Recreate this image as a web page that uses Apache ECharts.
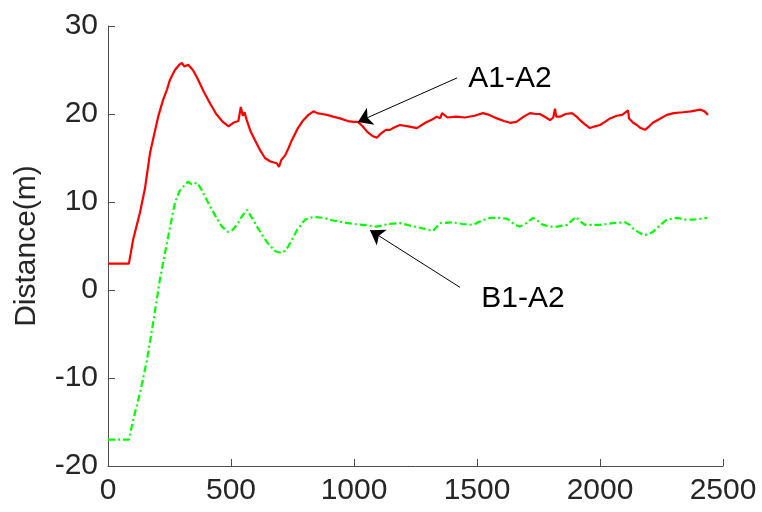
<!DOCTYPE html>
<html>
<head>
<meta charset="utf-8">
<script src="https://cdn.jsdelivr.net/npm/echarts@6/dist/echarts.min.js"></script>
<style>html,body{margin:0;padding:0;background:#fff}#c{width:762px;height:512px}</style>
</head>
<body>
<div id="c"></div>
<script>
var xTicks = [0, 500, 1000, 1500, 2000, 2500];
var yTicks = [-20, -10, 0, 10, 20, 30];

var a1a2X = [0,85,102,130,150,171,204,224,240,252,272,290,300,310,326,345,361,390,415,440,467,490,509,530,540,548,555,564,580,598,620,638,660,686,695,705,720,735,747,770,794,815,835,850,870,890,915,943,975,1000,1016,1035,1053,1075,1093,1110,1130,1146,1165,1187,1220,1256,1290,1320,1337,1350,1358,1380,1418,1450,1490,1524,1550,1581,1610,1634,1660,1690,1715,1740,1756,1780,1797,1810,1817,1822,1837,1860,1886,1905,1919,1940,1959,1980,2000,2020,2041,2068,2090,2114,2118,2135,2150,2165,2183,2200,2215,2240,2272,2300,2337,2370,2407,2425,2439];
var a1a2Y = [3,3,5.7,8.8,11.5,15.6,19.7,21.6,22.8,23.9,25.0,25.6,25.8,25.4,25.6,25.0,24.2,22.5,21.2,20.0,19.1,18.6,19.0,19.2,20.8,19.8,20.2,19.3,18.0,17.0,15.8,15.0,14.6,14.4,14.0,14.8,15.3,16.2,17.0,18.3,19.3,19.9,20.3,20.1,20.0,19.9,19.7,19.5,19.2,19.1,19.1,18.6,18.0,17.5,17.3,17.8,18.2,18.2,18.5,18.75,18.6,18.4,19.0,19.4,19.7,19.5,20.1,19.6,19.7,19.6,19.8,20.1,19.9,19.5,19.2,19.0,19.1,19.7,20.1,20.0,20.0,19.6,19.3,19.6,20.6,19.7,19.7,20.0,20.1,19.7,19.3,18.8,18.4,18.6,18.75,19.1,19.5,19.8,19.9,20.4,19.5,19.0,18.75,18.4,18.2,18.6,19.0,19.4,19.9,20.1,20.2,20.3,20.5,20.3,19.9];

var b1a2X = [0,85,102,130,158,183,211,244,272,290,301,325,340,362,380,394,423,445,463,488,505,524,545,565,585,610,630,650,680,707,725,748,768,801,835,875,915,955,1000,1037,1065,1093,1140,1187,1230,1280,1321,1350,1402,1440,1484,1520,1553,1590,1622,1650,1675,1700,1728,1750,1768,1800,1825,1866,1902,1920,1939,1970,2000,2053,2102,2120,2134,2155,2175,2195,2215,2245,2272,2313,2345,2378,2410,2435];
var b1a2Y = [-17,-17,-14.8,-11.7,-8,-3.8,1.2,6,9.9,11.2,11.6,12.3,12.0,12.2,11.4,10.6,9.1,8.0,7.2,6.6,6.8,7.4,8.4,9.1,8.2,7.0,6.1,5.3,4.4,4.2,4.6,5.7,6.8,8.0,8.3,8.2,7.9,7.7,7.5,7.4,7.3,7.2,7.5,7.6,7.3,7.0,6.7,7.6,7.7,7.5,7.4,7.9,8.2,8.2,8.1,7.5,7.2,7.6,8.2,7.8,7.4,7.2,7.2,7.4,8.3,7.8,7.4,7.4,7.4,7.6,7.7,7.4,7.0,6.6,6.25,6.3,6.6,7.4,8.0,8.2,8.0,8.0,8.1,8.2];

var labelA = {text: 'A1-A2', at: [1634, 24.0], from: [1419, 24.1], to: [1016, 19.1]};
var labelB = {text: 'B1-A2', at: [1687, -1.0], from: [1431, 0.3], to: [1065, 6.8]};

function pairs(xs, ys) { return xs.map(function (x, i) { return [x, ys[i]]; }); }

var FONT = "'Liberation Sans', Arial, sans-serif";
var axisColor = '#4d4d4d';
var textColor = '#262626';

function annot(l) {
  return {
    markLine: {
      silent: true, animation: false,
      symbol: ['none', 'arrow'], symbolSize: 14,
      lineStyle: {color: '#000', width: 1, type: 'solid'},
      itemStyle: {color: '#000'},
      label: {show: false},
      data: [[{coord: l.from}, {coord: l.to}]]
    },
    markPoint: {
      silent: true, animation: false,
      symbol: 'circle', symbolSize: 0,
      itemStyle: {color: 'transparent'},
      label: {show: true, position: 'inside', formatter: l.text, fontSize: 30, fontFamily: FONT, color: '#000'},
      data: [{coord: l.at}]
    }
  };
}

var chart = echarts.init(document.getElementById('c'), null, {renderer: 'canvas'});
var sA = Object.assign({
  name: 'A1-A2', type: 'line', showSymbol: false, symbol: 'none',
  data: pairs(a1a2X, a1a2Y),
  lineStyle: {color: '#ff0000', width: 2.2}, itemStyle: {color: '#ff0000'}
}, annot(labelA));
var sB = Object.assign({
  name: 'B1-A2', type: 'line', showSymbol: false, symbol: 'none',
  data: pairs(b1a2X, b1a2Y),
  lineStyle: {color: '#00ff00', width: 2.2, type: [7, 3, 2, 3]}, itemStyle: {color: '#00ff00'}
}, annot(labelB));

chart.setOption({
  animation: false,
  backgroundColor: '#fff',
  grid: {left: 108, top: 26, right: 39, bottom: 46, containLabel: false},
  xAxis: {
    type: 'value', min: xTicks[0], max: xTicks[xTicks.length - 1], interval: 500,
    axisLine: {show: true, onZero: false, lineStyle: {color: axisColor, width: 1}},
    axisTick: {show: true, inside: true, length: 7, lineStyle: {color: axisColor}},
    axisLabel: {fontSize: 30, fontFamily: FONT, color: textColor, margin: 10,
      formatter: function (v) { return String(v); }},
    splitLine: {show: false}
  },
  yAxis: {
    type: 'value', min: yTicks[0], max: yTicks[yTicks.length - 1], interval: 10,
    name: 'Distance(m)', nameLocation: 'middle', nameGap: 66,
    nameTextStyle: {fontSize: 30, fontFamily: FONT, color: textColor},
    axisLine: {show: true, onZero: false, lineStyle: {color: axisColor, width: 1}},
    axisTick: {show: true, inside: true, length: 7, lineStyle: {color: axisColor}},
    axisLabel: {fontSize: 30, fontFamily: FONT, color: textColor, margin: 10,
      formatter: function (v) { return String(v); }},
    splitLine: {show: false}
  },
  series: [sA, sB]
});
</script>
</body>
</html>
